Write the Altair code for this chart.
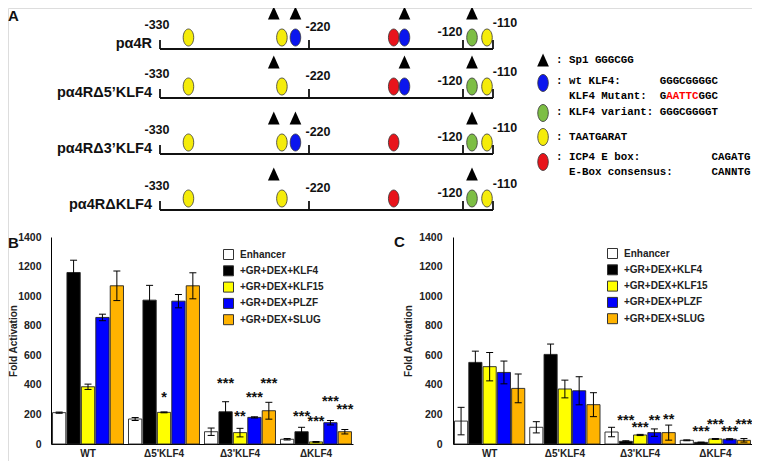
import altair as alt
import pandas as pd

FONT = "Liberation Sans"
MONO = "Liberation Mono"
W, H = 744, 453

# ---------------- Panel A : promoter constructs ----------------
constructs = ["pα4R", "pα4RΔ5’KLF4", "pα4RΔ3’KLF4", "pα4RΔKLF4"]
construct_row = [1, 2, 3, 4]
construct_start = -330
construct_end = -110
bp_landmarks = [-330, -220, -120, -110]
landmark_text = ["-330", "-220", "-120", "-110"]

sites_pos = [
    [-309, -240, -230, -165, -158, -117, -112],
    [-309, -240, -165, -158, -117, -112],
    [-309, -240, -230, -165, -117, -112],
    [-309, -240, -165, -117, -112],
]
sites_type = [
    ["TAATGARAT", "TAATGARAT", "KLF4", "Ebox", "KLF4", "KLF4var", "TAATGARAT"],
    ["TAATGARAT", "TAATGARAT", "Ebox", "KLF4", "KLF4var", "TAATGARAT"],
    ["TAATGARAT", "TAATGARAT", "KLF4", "Ebox", "KLF4var", "TAATGARAT"],
    ["TAATGARAT", "TAATGARAT", "Ebox", "KLF4var", "TAATGARAT"],
]
sp1_pos = [
    [-246, -230, -158, -117],
    [-246, -158, -117],
    [-246, -230, -117],
    [-246, -117],
]
site_types = ["TAATGARAT", "KLF4", "KLF4var", "Ebox"]
site_colors = ["#F5EC0A", "#0B16EE", "#7DBE44", "#E8141B"]

# key (monospace text grid)
key_text = [": Sp1 GGGCGG", ": wt KLF4:", "GGGCGGGGC", "KLF4 Mutant:", "G", "AATTC", "GGC",
            ": KLF4 variant: GGGCGGGGT", ": TAATGARAT", ": ICP4 E box:", "CAGATG",
            "E-Box consensus:", "CANNTG"]
key_line = [0, 1, 1, 2, 2, 2, 2, 3, 4, 5, 5, 6, 6]
key_col = [0, 0, 16, 2, 16, 17, 22, 0, 0, 0, 24, 2, 24]
key_color = ["black", "black", "black", "black", "black", "red", "black",
             "black", "black", "black", "black", "black", "black"]
key_sym_type = ["KLF4", "KLF4var", "TAATGARAT", "Ebox"]
key_sym_line = [1.13, 3.04, 4.0, 5.33]
key_sp1_line = [0]

# ---------------- Panels B and C : fold activation ----------------
categories = ["WT", "Δ5'KLF4", "Δ3'KLF4", "ΔKLF4"]
series = ["Enhancer", "+GR+DEX+KLF4", "+GR+DEX+KLF15", "+GR+DEX+PLZF", "+GR+DEX+SLUG"]
series_colors = ["#FFFFFF", "#000000", "#FFFF00", "#0000FF", "#FFB300"]

b_mean = [[212, 169, 83, 32], [1160, 973, 218, 83], [387, 214, 77, 14],
          [856, 966, 180, 144], [1070, 1070, 225, 83]]
b_err = [[4, 10, 25, 5], [83, 100, 68, 30], [18, 3, 29, 3],
         [22, 45, 4, 15], [100, 88, 57, 15]]
b_star_cat = ["Δ5'KLF4", "Δ3'KLF4", "Δ3'KLF4", "Δ3'KLF4", "Δ3'KLF4",
              "ΔKLF4", "ΔKLF4", "ΔKLF4", "ΔKLF4"]
b_star_series = ["+GR+DEX+KLF15", "+GR+DEX+KLF4", "+GR+DEX+KLF15", "+GR+DEX+PLZF", "+GR+DEX+SLUG",
                 "+GR+DEX+KLF4", "+GR+DEX+KLF15", "+GR+DEX+PLZF", "+GR+DEX+SLUG"]
b_star_text = ["*", "***", "**", "***", "***", "***", "***", "***", "***"]
b_star_y = [338, 432, 212, 336, 432, 212, 173, 308, 257]

c_mean = [[155, 113, 81, 25], [552, 606, 18, 11], [523, 372, 61, 34],
          [484, 360, 77, 32], [376, 266, 77, 25]]
c_err = [[93, 38, 32, 3], [76, 70, 4, 2], [96, 60, 4, 3],
         [77, 95, 25, 4], [97, 81, 51, 12]]
c_star_cat = ["Δ3'KLF4", "Δ3'KLF4", "Δ3'KLF4", "Δ3'KLF4", "ΔKLF4", "ΔKLF4", "ΔKLF4", "ΔKLF4"]
c_star_series = ["+GR+DEX+KLF4", "+GR+DEX+KLF15", "+GR+DEX+PLZF", "+GR+DEX+SLUG",
                 "+GR+DEX+KLF4", "+GR+DEX+KLF15", "+GR+DEX+PLZF", "+GR+DEX+SLUG"]
c_star_text = ["***", "***", "**", "**", "***", "***", "***", "***"]
c_star_y = [185, 133, 180, 189, 106, 155, 106, 155]
y_ticks = [0, 200, 400, 600, 800, 1000, 1200, 1400]

# ---------------- build panel A ----------------
ELLIPSE = "M0,-1 A0.62,1 0 1,1 0,1 A0.62,1 0 1,1 0,-1 Z"
TRI = "M0,-1 L0.9,1 L-0.9,1 Z"

rows_df = pd.DataFrame({"construct": constructs, "row": construct_row,
                        "start": construct_start, "end": construct_end})
tick_df = pd.DataFrame([{"row": r, "bp": b, "label": t}
                        for r in construct_row for b, t in zip(bp_landmarks, landmark_text)])
site_df = pd.DataFrame([{"row": r, "bp": p, "type": t}
                        for r, ps, ts in zip(construct_row, sites_pos, sites_type)
                        for p, t in zip(ps, ts)])
sp1_df = pd.DataFrame([{"row": r, "bp": p} for r, ps in zip(construct_row, sp1_pos) for p in ps])

def xs():
    return alt.Scale(domain=bp_landmarks, range=[152, 301, 455, 485], nice=False, zero=False)

def ys():
    return alt.Scale(domain=construct_row, range=[41, 90, 146, 202], nice=False, zero=False)

yA = alt.Y("row:Q", scale=ys(), axis=None)
xA = alt.X("bp:Q", scale=xs(), axis=None)
fill_site = alt.Fill("type:N", scale=alt.Scale(domain=site_types, range=site_colors), legend=None)

lines = alt.Chart(rows_df).mark_rule(color="#111", strokeWidth=1.8).encode(
    x=alt.X("start:Q", scale=xs(), axis=None), x2="end:Q", y=yA)
ticks = alt.Chart(tick_df).mark_rule(color="#111", strokeWidth=1.8, y2Offset=-9).encode(
    x=xA, y=yA, y2=alt.Y2("row"))
ellipses = alt.Chart(site_df).mark_point(shape=ELLIPSE, size=289, filled=True, opacity=1,
                                         stroke="#333", strokeWidth=0.8, yOffset=-11.5).encode(
    x=xA, y=yA, fill=fill_site)
triangles = alt.Chart(sp1_df).mark_point(shape=TRI, size=169, filled=True, color="black",
                                         opacity=1, yOffset=-36).encode(x=xA, y=yA)
label_offsets = {-330: (-3, -24), -220: (9, -22), -120: (-13, -17), -110: (12, -26)}
lm_layers = []
for b in bp_landmarks:
    dx, dy = label_offsets[b]
    lm_layers.append(
        alt.Chart(tick_df[tick_df["bp"] == b]).mark_text(
            font=FONT, fontWeight="bold", fontSize=12.5, baseline="middle", dx=dx, dy=dy,
            color="#111").encode(x=xA, y=yA, text="label:N"))
row_labels = alt.Chart(rows_df).mark_text(font=FONT, fontWeight="bold", fontSize=14.5,
                                          align="right", baseline="middle", dx=-8, dy=-5,
                                          color="#111").encode(
    x=alt.X("start:Q", scale=xs(), axis=None), y=yA, text="construct:N")

panelA = alt.layer(lines, ticks, ellipses, triangles, *lm_layers, row_labels)

# key
CW = 6.48
key_df = pd.DataFrame({"text": key_text, "line": key_line, "col": key_col, "tcolor": key_color})
key_sym_df = pd.DataFrame({"type": key_sym_type, "line": key_sym_line, "col": -2})
key_sp1_df = pd.DataFrame({"line": key_sp1_line, "col": -2})

def xk():
    return alt.X("col:Q", scale=alt.Scale(domain=[0, 30], range=[548, 548 + 30 * CW],
                                          nice=False, zero=False), axis=None)

def yk():
    return alt.Y("line:Q", scale=alt.Scale(domain=[0, 1, 2, 3, 4, 5, 6],
                                           range=[52, 73, 88, 104, 129, 149, 164],
                                           nice=False, zero=False), axis=None)

key_txt = alt.Chart(key_df).mark_text(font=MONO, fontWeight="bold", fontSize=10.8,
                                      align="left", baseline="middle").encode(
    x=xk(), y=yk(), text="text:N", color=alt.Color("tcolor:N", scale=None))
key_ell = alt.Chart(key_sym_df).mark_point(shape=ELLIPSE, size=289, filled=True, opacity=1,
                                           stroke="#333", strokeWidth=0.8).encode(
    x=xk(), y=yk(), fill=fill_site)
key_tri = alt.Chart(key_sp1_df).mark_point(shape=TRI, size=169, filled=True, color="black",
                                           opacity=1).encode(x=xk(), y=yk())
keyA = alt.layer(key_txt, key_ell, key_tri)

# ---------------- bar panels ----------------
Y0, Y1 = 436, 229

def bar_panel(mean, err, s_cat, s_ser, s_txt, s_y, x0, x1, title_x, label_pad, leg_x, leg_y):
    df = pd.DataFrame([{"cat": c, "series": s, "value": m, "lo": m - e, "hi": m + e}
                       for s, ms, es in zip(series, mean, err)
                       for c, m, e in zip(categories, ms, es)])
    sdf = pd.DataFrame({"cat": s_cat, "series": s_ser, "star": s_txt, "y": s_y})
    x_axis = alt.Axis(orient="bottom", offset=-(H - Y0), title=None, ticks=False, labelAngle=0,
                      labelFont=FONT, labelFontWeight="bold", labelFontSize=10, labelColor="#222",
                      labelPadding=4, domainColor="black", domainWidth=1, grid=False)
    y_axis = alt.Axis(orient="left", offset=-x0, values=y_ticks, format="d",
                      title="Fold Activation",
                      titleX=title_x, titleY=(Y0 + Y1) / 2, titleAngle=270, titleAlign="center",
                      titleBaseline="middle", titleFont=FONT, titleFontWeight="bold",
                      titleFontSize=10, titleColor="#222", ticks=False, grid=False,
                      labelFont=FONT, labelFontWeight="bold", labelFontSize=10.5,
                      labelColor="#222", labelPadding=label_pad, domainColor="black",
                      domainWidth=1)

    def X():
        return alt.X("cat:N", sort=categories,
                     scale=alt.Scale(range=[x0, x1], paddingInner=0.066, paddingOuter=0.02),
                     axis=x_axis)

    def XO():
        return alt.XOffset("series:N", sort=series, scale=alt.Scale(paddingInner=0.08))

    def Ysc(field):
        return alt.Y(field, scale=alt.Scale(domain=[0, 1400], range=[Y0, Y1], nice=False),
                     axis=y_axis)

    bars = alt.Chart(df).mark_bar(stroke="#222", strokeWidth=0.9).encode(
        x=X(), xOffset=XO(), y=Ysc("value:Q"),
        color=alt.Color("series:N", sort=series,
                        scale=alt.Scale(domain=series, range=series_colors),
                        legend=alt.Legend(orient="none", legendX=leg_x, legendY=leg_y, title=None,
                                          symbolType="square", symbolSize=100,
                                          symbolStrokeColor="#333", symbolStrokeWidth=1,
                                          labelFont=FONT, labelFontWeight="bold",
                                          labelFontSize=10, labelColor="#222",
                                          rowPadding=1.3, labelOffset=6, padding=0)))
    whisk = alt.Chart(df).mark_rule(color="black", strokeWidth=1).encode(
        x=X(), xOffset=XO(), y=Ysc("lo:Q"), y2="hi:Q")
    cap_hi = alt.Chart(df).mark_tick(color="black", thickness=1, size=7, opacity=1).encode(
        x=X(), xOffset=XO(), y=Ysc("hi:Q"))
    cap_lo = alt.Chart(df).mark_tick(color="black", thickness=1, size=7, opacity=1).encode(
        x=X(), xOffset=XO(), y=Ysc("lo:Q"))
    stars = alt.Chart(sdf).mark_text(font=FONT, fontWeight="bold", fontSize=14.5,
                                     baseline="middle", dy=4, color="#111").encode(
        x=X(), xOffset=XO(), y=Ysc("y:Q"), text="star:N")
    return alt.layer(bars, whisk, cap_hi, cap_lo, stars)

panelB = bar_panel(b_mean, b_err, b_star_cat, b_star_series, b_star_text, b_star_y,
                   43, 345, -38, 10, 215, 241)
panelC = bar_panel(c_mean, c_err, c_star_cat, c_star_series, c_star_text, c_star_y,
                   445, 744, -45, 11, 599, 240)

# panel letters
panel_letters = ["A", "B", "C"]
letter_layers = []
for t, (lx, ly) in zip(panel_letters, [(0, 1), (0, 228), (386, 227)]):
    letter_layers.append(
        alt.Chart(pd.DataFrame({"t": [t]})).mark_text(
            font=FONT, fontWeight="bold", fontSize=15, align="left", baseline="top",
            color="#111").encode(x=alt.value(lx), y=alt.value(ly), text="t:N"))

chart = alt.layer(panelA, keyA, panelB, panelC, *letter_layers).resolve_scale(
    x="independent", y="independent", color="independent", xOffset="independent"
).properties(
    width=W, height=H, padding=0, autosize=alt.AutoSizeParams(type="none")
).configure_view(stroke=None).configure(font=FONT, background="white")

chart.save("out.html", embed_options={"renderer": "svg", "actions": False})
